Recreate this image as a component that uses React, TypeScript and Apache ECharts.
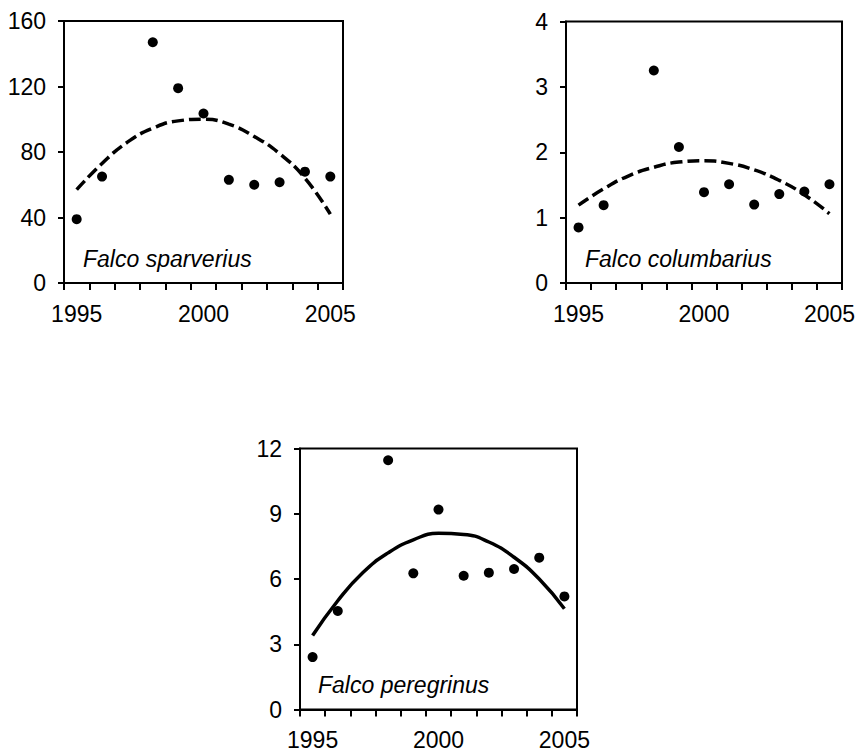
import React, { useEffect, useRef } from "react";
import * as echarts from "echarts";

const years = ["1995", "1996", "1997", "1998", "1999", "2000", "2001", "2002", "2003", "2004", "2005"];

// Observed values (1997 missing)
const sparveriusObs: (number | string)[] = [39, 65, "-", 147, 119, 103.5, 63, 60, 61.5, 68, 65];
const columbariusObs: (number | string)[] = [0.85, 1.19, "-", 3.25, 2.08, 1.39, 1.51, 1.2, 1.36, 1.4, 1.51];
const peregrinusObs: (number | string)[] = [2.41, 4.53, "-", 11.46, 6.26, 9.19, 6.15, 6.29, 6.46, 6.98, 5.2];

// Trend lines
const sparveriusTrend = [57, 73, 86, 94.5, 99, 100, 97, 89.5, 79, 64, 42];
const columbariusTrend = [1.19, 1.44, 1.64, 1.77, 1.85, 1.87, 1.83, 1.73, 1.57, 1.35, 1.06];
const peregrinusTrend = [3.4, 5.0, 6.3, 7.2, 7.8, 8.1, 8.05, 7.7, 7.0, 6.0, 4.63];

const species = ["Falco sparverius", "Falco columbarius", "Falco peregrinus"];
const yMax = [160, 4, 12];
const yInterval = [40, 1, 3];

const FONT = "'Liberation Sans', Arial, sans-serif";

export default function App() {
  const ref = useRef<HTMLDivElement>(null);
  useEffect(() => {
    if (!ref.current) return;
    const chart = echarts.init(ref.current, undefined, { renderer: "svg" });

    const grids = [
      { left: 64, top: 21, width: 279, height: 262 },
      { left: 566, top: 21.5, width: 277, height: 261.5 },
      { left: 300, top: 448.5, width: 277, height: 261 },
    ];

    const xAxis = grids.map((_, i) => ({
      type: "category",
      gridIndex: i,
      data: years,
      boundaryGap: true,
      axisLine: { lineStyle: { color: "#000", width: 2 } },
      axisTick: { show: true, interval: 0, length: 7, lineStyle: { color: "#000", width: 2 } },
      axisLabel: { interval: 4, color: "#000", fontSize: 23, fontFamily: FONT, margin: 19 },
      splitLine: { show: false },
    }));

    const yAxis = grids.map((_, i) => ({
      type: "value",
      gridIndex: i,
      min: 0,
      max: yMax[i],
      interval: yInterval[i],
      axisLine: { show: true, lineStyle: { color: "#000", width: 2 } },
      axisTick: { show: true, length: 6, lineStyle: { color: "#000", width: 2 } },
      axisLabel: { color: "#000", fontSize: 23, fontFamily: FONT, margin: 18 },
      splitLine: { show: false },
    }));

    const obs = [sparveriusObs, columbariusObs, peregrinusObs];
    const trends = [sparveriusTrend, columbariusTrend, peregrinusTrend];
    const series: any[] = [];
    for (let i = 0; i < 3; i++) {
      series.push({
        type: "line",
        xAxisIndex: i,
        yAxisIndex: i,
        data: trends[i],
        smooth: true,
        symbol: "none",
        lineStyle: { color: "#000", width: 3.5, type: i === 2 ? "solid" : [12, 5] },
        z: 2,
      });
      series.push({
        type: "scatter",
        xAxisIndex: i,
        yAxisIndex: i,
        data: obs[i],
        symbol: "circle",
        symbolSize: 10,
        itemStyle: { color: "#000", opacity: 1 },
        z: 3,
      });
    }

    const labelPos = [
      { x: 83, y: 259 },
      { x: 585, y: 259 },
      { x: 318, y: 685 },
    ];

    chart.setOption({
      animation: false,
      backgroundColor: "#fff",
      grid: grids.map((g) => ({ ...g, show: true, borderColor: "#000", borderWidth: 2, backgroundColor: "transparent" })),
      xAxis,
      yAxis,
      series,
      graphic: species.map((s, i) => ({
        type: "text",
        x: labelPos[i].x,
        y: labelPos[i].y,
        z: 10,
        style: {
          text: s,
          fontSize: 23,
          fontStyle: "italic",
          fontFamily: FONT,
          fill: "#000",
          verticalAlign: "middle",
          align: "left",
        },
      })),
    });
    return () => chart.dispose();
  }, []);
  return <div ref={ref} style={{ position: "absolute", left: 0, top: 0, width: 858, height: 752 }} />;
}
